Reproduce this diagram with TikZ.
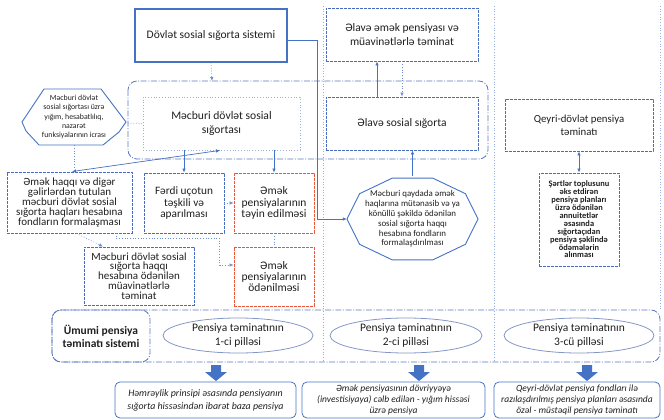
\documentclass[tikz,border=0pt]{standalone}
\usepackage{fontspec}
\setmainfont{Carlito}
\usetikzlibrary{arrows.meta,calc,shapes.geometric}
\definecolor{cblue}{HTML}{4472C4}
\definecolor{cdash}{HTML}{4A6CC0}
\definecolor{cdot}{HTML}{98AEDC}
\definecolor{cdotb}{HTML}{6F8FD3}
\definecolor{cred}{HTML}{E8553A}
\definecolor{cframe}{HTML}{5B78BF}
\definecolor{cell}{HTML}{8497C4}
\begin{document}
\begin{tikzpicture}[x=1pt,y=-1pt,
  font=\fontsize{11.5}{13.4}\selectfont,
  >={Latex[length=4pt,width=3.6pt]},
  every node/.style={inner sep=0pt, align=center, text=black!88},
  dbox/.style={draw=cdash, line width=0.9pt, dash pattern=on 2.6pt off 1.4pt},
  rbox/.style={draw=cred, line width=0.9pt, dash pattern=on 2.6pt off 1.4pt},
  gbox/.style={draw=cdot, line width=0.8pt, dotted},
  framebox/.style={draw=cframe, line width=0.8pt, dash pattern=on 6pt off 1.6pt on 1pt off 1.6pt, rounded corners=9pt},
  pillar/.style={draw=cdot, line width=0.7pt, dotted},
  solidc/.style={draw=cblue, line width=0.7pt},
  dotc/.style={draw=cdotb, line width=0.7pt, dotted},
  poly/.style={draw=cblue, line width=0.9pt},
  ell/.style={draw=cell, line width=0.8pt, ellipse},
  bbox/.style={draw=cblue, line width=0.8pt, rounded corners=5pt},
  blockarrow/.style={fill=cblue, draw=none},
]
\useasboundingbox (0,0) rectangle (664,420);

% column dividers
\draw[pillar] (323,6) -- (323,362);
\draw[pillar] (494,6) -- (494,362);
\draw[pillar] (660,6) -- (660,310);

% frames
\draw[framebox, fill=white] (128,81) rectangle (488,159);
\draw[pillar] (323,81) -- (323,159);
\coordinate (ftop) at (212,81);

% top boxes
\node[draw=cblue, line width=1.3pt, fill=white, minimum width=152, minimum height=53] (dovlet) at (211,35.5) {Dövlət sosial sığorta sistemi};
\node[dbox, fill=white, minimum width=152, minimum height=53, font=\fontsize{11.5}{13.4}\selectfont] (alave1) at (402,34.5) {Əlavə əmək pensiyası və\\ müavinətlərlə təminat};
\node[gbox, fill=white, minimum width=157, minimum height=53, font=\fontsize{11.6}{14.3}\selectfont] (mecburi) at (221.5,123.5) {Məcburi dövlət sosial\\ sığortası};
\node[dbox, fill=white, minimum width=152, minimum height=53] (alave2) at (402,123.5) {Əlavə sosial sığorta};
\node[dbox, fill=white, minimum width=148, minimum height=52, font=\fontsize{10.8}{13.4}\selectfont] (qeyri) at (579,125) {Qeyri-dövlət pensiya\\ təminatı};
\node[dbox, fill=white, minimum width=80, minimum height=93, font=\fontsize{8.4}{7.9}\selectfont\bfseries] (sertler) at (579,219.5) {Şərtlər toplusunu\\ əks etdirən\\ pensiya planları\\ üzrə ödənilən\\ annuitetlər\\ əsasında\\ sığortaçıdan\\ pensiya şəklində\\ ödəmələrin\\ alınması};

% polygons
\node[minimum width=104, minimum height=56, font=\fontsize{7.8}{9.4}\selectfont] (oct1) at (74,117) {Məcburi dövlət\\ sosial sığortası üzrə\\ yığım, hesabatlılıq,\\ nazarət\\ funksiyalarının icrası};
\draw[poly] ($(oct1.center)+(-30,-28)$) -- ($(oct1.center)+(27,-28)$) -- ($(oct1.center)+(52,5)$) -- ($(oct1.center)+(45,15)$) -- ($(oct1.center)+(29,28)$) -- ($(oct1.center)+(-35,28)$) -- ($(oct1.center)+(-48,14)$) -- ($(oct1.center)+(-52,5)$) -- cycle;
\node[minimum width=131, minimum height=86, font=\fontsize{8.9}{9.8}\selectfont] (oct2) at (412.5,219) {Məcburi qaydada əmək\\ haqlarına mütənasib və ya\\ könüllü şəkildə ödənilən\\ sosial sığorta haqqı\\ hesabına fondların\\ formalaşdırılması};
\draw[poly] ($(oct2.center)+(0:65.5 and 43)$) \foreach \a in {36,72,...,324}{ -- ($(oct2.center)+(\a:65.5 and 43)$)} -- cycle;

% middle boxes
\node[dbox, minimum width=125, minimum height=61, font=\fontsize{11}{10}\selectfont] (emek) at (69.5,202.5) {Əmək haqqı və digər\\ gəlirlərdən tutulan\\ məcburi dövlət sosial\\ sığorta haqları hesabına\\ fondların formalaşması};
\node[dbox, minimum width=80, minimum height=60, font=\fontsize{11.3}{11.7}\selectfont] (ferdi) at (184,203) {Fərdi uçotun\\ təşkili və\\ aparılması};
\node[rbox, minimum width=80, minimum height=60, font=\fontsize{11.5}{11.7}\selectfont] (teyin) at (274,203) {Əmək\\ pensiyalarının\\ təyin edilməsi};
\node[rbox, minimum width=80, minimum height=59, font=\fontsize{11.5}{11.2}\selectfont] (odenil) at (274,276.5) {Əmək\\ pensiyalarının\\ ödənilməsi};
\node[dbox, minimum width=110, minimum height=58, font=\fontsize{11}{9.8}\selectfont] (muav) at (139,276) {Məcburi dövlət sosial\\ sığorta haqqı\\ hesabına ödənilən\\ müavinətlərlə\\ təminat};

% connectors
\draw[dotc, ->] (dovlet.south) -- (ftop);
\draw[solidc, ->] ($(dovlet.east)+(0,4.5)$) -| ($(oct2.west)+(-29,0)$) -- (oct2.west);
\draw[solidc, ->] ($(alave2.north)+(-25,0)$) -- ($(alave1.south)+(-25,0)$);
\draw[dotc, ->] (alave1.south) -- (alave2.north);
\draw[solidc, ->] (oct2.north) -- (oct2.north |- alave2.south);
\draw[solidc, <->] (qeyri.south) -- (sertler.north);
\draw[solidc, ->] (ferdi.north |- mecburi.south) -- (ferdi.north);
\draw[solidc, ->] (teyin.north |- mecburi.south) -- (teyin.north);
\draw[solidc, <->] ($(emek.north)+(2.5,0)$) -- ($(mecburi.south)+(-1.5,0)$);
\draw[dotc] (oct1.south) -- (oct1.south |- emek.north);
\draw[dotc] ($(oct1.east)+(-1,6)$) -- (mecburi.west);
\draw[dotc, ->] ($(emek.south)+(7,0)$) -- ($(muav.north)+(-36,0)$);
\draw[dotc, ->] ($(emek.south)+(46.5,0)$) -- ++(0,5) -| ($(odenil.west)+(-14,-11.5)$) -- ($(odenil.west)+(0,-11.5)$);
\draw[dotc, ->] (ferdi.east) -- (teyin.west);
\draw[dotc] (teyin.south) -- (odenil.north);

% bottom frame
\draw[framebox] (52,310) rectangle (660,362);
\node[framebox, minimum width=98, minimum height=52, font=\fontsize{11.5}{13}\selectfont\bfseries] (umumi) at (101,336) {Ümumi pensiya\\ təminatı sistemi};
\node[ell, minimum width=150, minimum height=35, font=\fontsize{11.5}{14}\selectfont] (ell1) at (238,335.5) {Pensiya təminatının\\ 1-ci pilləsi};
\node[ell, minimum width=152, minimum height=35, font=\fontsize{11.5}{14}\selectfont] (ell2) at (406,335.5) {Pensiya təminatının\\ 2-ci pilləsi};
\node[ell, minimum width=150, minimum height=35, font=\fontsize{11.5}{14}\selectfont] (ell3) at (579,335.5) {Pensiya təminatının\\ 3-cü pilləsi};

% bottom boxes
\node[bbox, minimum width=181, minimum height=36, font=\fontsize{9.9}{13}\selectfont\itshape] (b1) at (205.5,400) {Həmrəylik prinsipi əsasında pensiyanın\\ sığorta hissəsindən ibarət baza pensiya};
\node[bbox, minimum width=183, minimum height=36, font=\fontsize{9.5}{11}\selectfont\itshape] (b2) at (393.5,400) {Əmək pensiyasının dövriyyəyə\\ (investisiyaya) cəlb edilən - yığım hissəsi\\ üzrə pensiya};
\node[bbox, minimum width=166, minimum height=36, font=\fontsize{9.5}{11}\selectfont\itshape] (b3) at (577,400) {Qeyri-dövlət pensiya fondları ilə\\ razılaşdırılmış pensiya planları əsasında\\ özəl - müstəqil pensiya təminatı};

% block arrows
\foreach \x in {216,419,587}{
  \fill[blockarrow] (\x-5,365) -- (\x+5,365) -- (\x+5,372) -- (\x+11,372) -- (\x,381) -- (\x-11,372) -- (\x-5,372) -- cycle;
}
\end{tikzpicture}
\end{document}
